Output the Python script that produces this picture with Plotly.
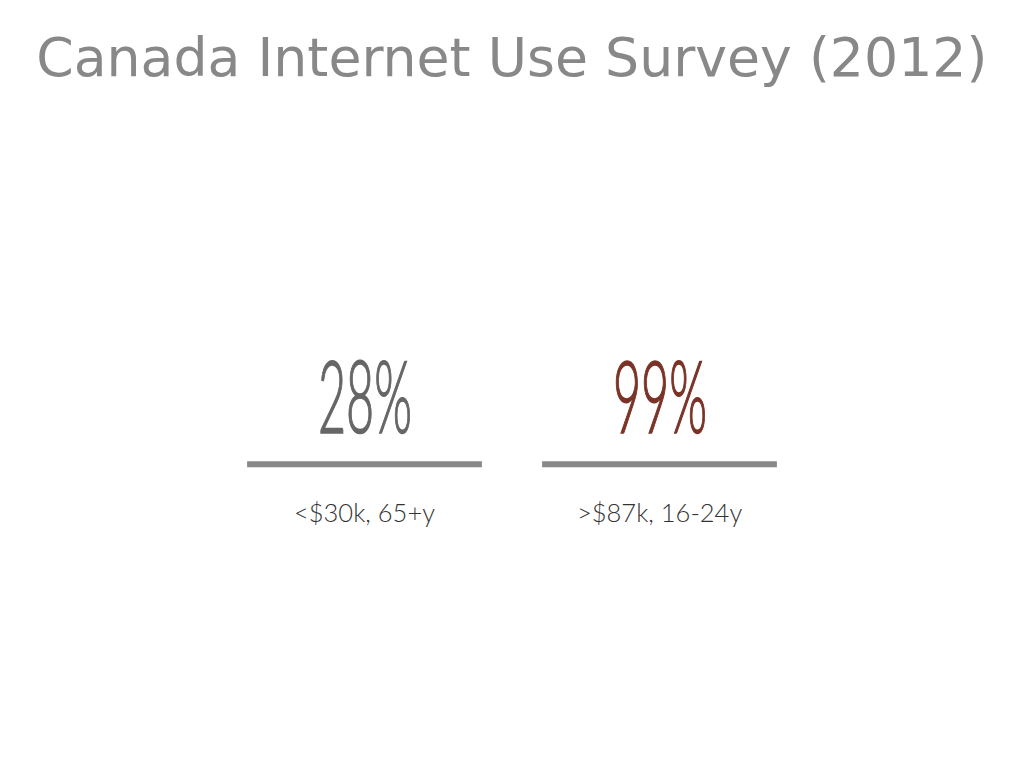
import plotly.graph_objects as go

# data
GROUPS = ["<$30k, 65+y", ">$87k, 16-24y"]
SHARE = [28, 99]          # % using the internet
NUM_COLORS = ["#666666", "#7a3326"]

TITLE = "Canada Internet Use Survey (2012)"
BAR_GREY = "#888888"

idx = list(range(len(GROUPS)))

fig = go.Figure()

# invisible trace so the category axis exists
fig.add_trace(go.Scatter(x=idx, y=[0] * len(idx), mode="markers",
                         marker=dict(opacity=0), hoverinfo="skip", showlegend=False))

for i, (grp, val, col) in enumerate(zip(GROUPS, SHARE, NUM_COLORS)):
    # big number
    fig.add_annotation(
        x=i, y=0.496, xref="x", yref="paper",
        text=f"{val}%", showarrow=False,
        font=dict(family="Lato", size=101, color=col, weight=300),
        xanchor="center", yanchor="middle",
    )
    # grey rule
    fig.add_shape(type="line", xref="x", yref="paper",
                  x0=i - 0.398, x1=i + 0.398, y0=0.358, y1=0.358,
                  line=dict(color=BAR_GREY, width=6))
    # group label
    fig.add_annotation(
        x=i, y=0.264, xref="x", yref="paper",
        text=grp, showarrow=False,
        font=dict(family="Lato", size=25.5, color="#333333", weight=300),
        xanchor="center", yanchor="middle",
    )

fig.update_layout(
    title=dict(text=TITLE, x=0.492, xanchor="center", y=0.936, yanchor="middle",
               font=dict(family="DejaVu Sans", size=53.7, color="#888888")),
    width=1024, height=768,
    margin=dict(l=209, r=225, t=130, b=130),
    plot_bgcolor="white", paper_bgcolor="white",
    xaxis=dict(range=[-0.5, 1.5], visible=False, fixedrange=True),
    yaxis=dict(range=[-1, 1], visible=False, fixedrange=True),
    showlegend=False,
)

# squeeze the big numbers horizontally to mimic the condensed display face
squeeze = """
setTimeout(function(){
  document.querySelectorAll('text.annotation-text').forEach(function(t){
    if (t.textContent.indexOf('%') < 0) return;
    var b = t.getBBox();
    var cx = b.x + b.width / 2;
    t.style.stroke = t.style.fill;
    t.style.strokeWidth = '1.6px';
    t.setAttribute('transform', 'translate(' + cx + ',0) scale(0.48,1) translate(' + (-cx) + ',0)');
  });
}, 50);
"""

fig.write_html("out.html", post_script=squeeze)
